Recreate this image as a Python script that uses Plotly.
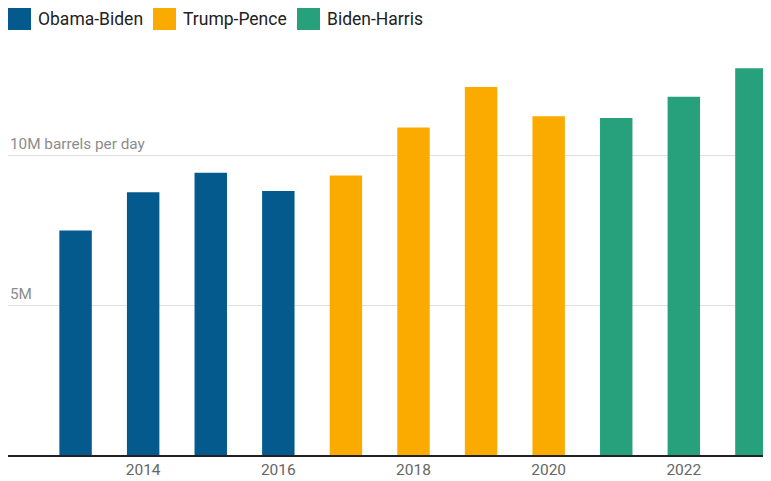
import plotly.graph_objects as go

years_obama = [2013, 2014, 2015, 2016]
vals_obama = [7.48, 8.76, 9.41, 8.80]
years_trump = [2017, 2018, 2019, 2020]
vals_trump = [9.32, 10.92, 12.27, 11.29]
years_biden = [2021, 2022, 2023]
vals_biden = [11.23, 11.94, 12.89]

series = [
    ("Obama-Biden", years_obama, vals_obama, "#045A8D"),
    ("Trump-Pence", years_trump, vals_trump, "#FBAA00"),
    ("Biden-Harris", years_biden, vals_biden, "#26A17B"),
]

y_tickvals = [5, 10]
y_ticktext = ["5M", "10M barrels per day"]
x_tickvals = [2014, 2016, 2018, 2020, 2022]

W, H = 763, 473
ML, MR, MT, MB = 0, 0, 42, 26
PW, PH = W - ML - MR, H - MT - MB

fig = go.Figure()
for name, xs, ys, col in series:
    fig.add_trace(go.Bar(x=xs, y=ys, name=name, marker_color=col, width=0.48,
                         marker_line_width=0, showlegend=False))

def py(fy):
    return (H - MB - fy) / PH

def px(fx):
    return (fx - ML) / PW

# custom legend (large swatches)
legend_x = [0, 145, 289]
for (name, xs, ys, col), lx in zip(series, legend_x):
    fig.add_shape(type="rect", xref="paper", yref="paper",
                  x0=px(lx), x1=px(lx + 23), y0=py(22), y1=py(0),
                  line_width=0, fillcolor=col)
    fig.add_annotation(xref="paper", yref="paper", x=px(lx + 28), y=py(11),
                       xanchor="left", yanchor="middle", text=name, showarrow=False,
                       font=dict(size=17.5, color="#222222", family="Roboto"))

# y tick labels drawn inside the plot, above their gridlines
for v, t in zip(y_tickvals, y_ticktext):
    fig.add_annotation(xref="paper", yref="y", x=0, y=v, xanchor="left",
                       yanchor="bottom", text=t, showarrow=False, yshift=0,
                       font=dict(size=15.3, color="#8c8c8c", family="Roboto"))

fig.update_layout(
    width=W, height=H,
    margin=dict(l=ML, r=MR, t=MT, b=MB),
    plot_bgcolor="white", paper_bgcolor="white",
    barmode="overlay",
    showlegend=False,
    font=dict(family="Roboto", size=14, color="#666666"),
    xaxis=dict(range=[2012.0, 2023.29], tickvals=x_tickvals, showgrid=False,
               showline=True, linecolor="#222222", linewidth=1.5, ticks="",
               tickfont=dict(size=15.5, color="#666666"), zeroline=False),
    yaxis=dict(range=[0, 13.5], tickvals=y_tickvals, showticklabels=False,
               showgrid=True, gridcolor="#e0e0e0", gridwidth=1, zeroline=False,
               ticks=""),
)

fig.write_html("out.html")
